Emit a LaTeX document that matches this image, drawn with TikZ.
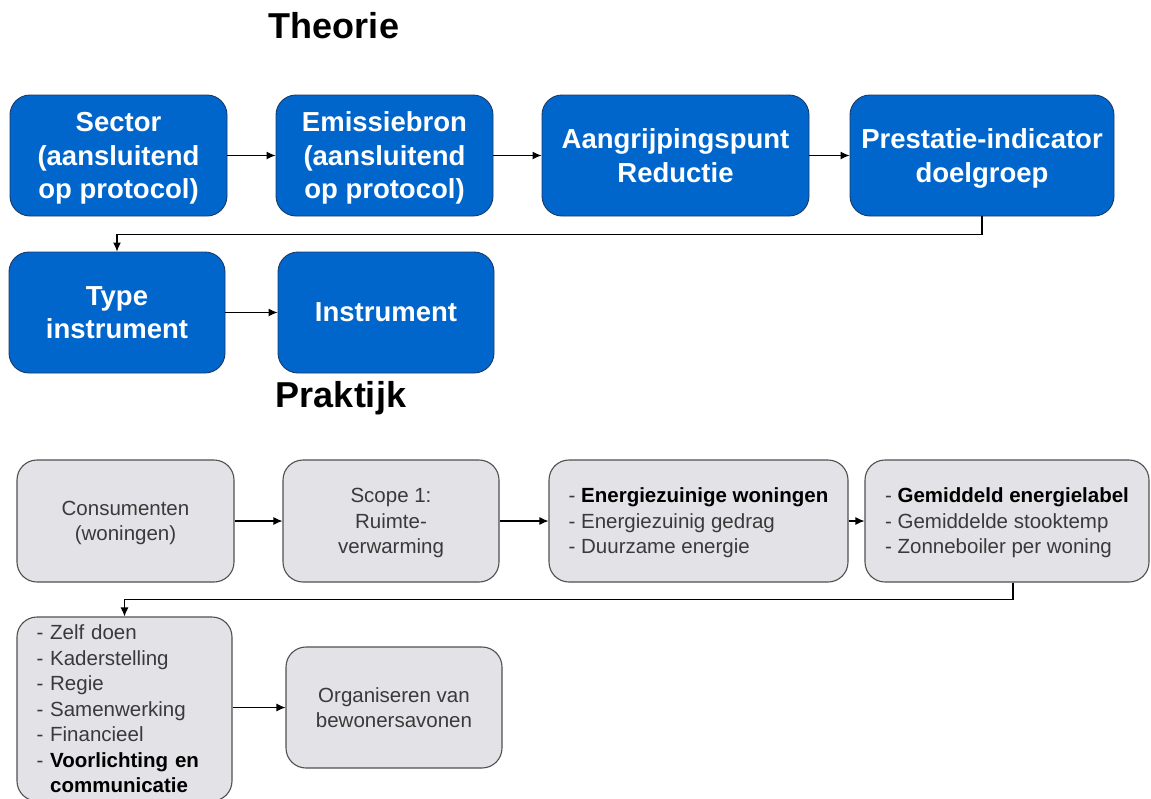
\documentclass[tikz,border=0pt]{standalone}
\usepackage{fontspec}
\setmainfont{Liberation Sans}
\usetikzlibrary{arrows.meta}
\definecolor{boxblue}{HTML}{0066CC}
\definecolor{blueedge}{HTML}{1A3A66}
\definecolor{boxgray}{HTML}{E3E2E6}
\definecolor{grayedge}{HTML}{505050}
\definecolor{txtgray}{HTML}{3A3A3A}
\tikzset{
  bluebox/.style={draw=blueedge, line width=0.9pt, fill=boxblue, rounded corners=20pt,
    text=white, align=center, inner sep=0pt, text depth=0pt,
    font=\fontsize{27.5}{33.5}\selectfont\bfseries},
  graybox/.style={draw=grayedge, line width=1.1pt, fill=boxgray, rounded corners=20pt,
    text=txtgray, inner sep=0pt, font=\fontsize{20.5}{25.5}\selectfont},
  graytext/.style={graybox, text depth=0pt},
  titletext/.style={font=\fontsize{36}{40}\selectfont\bfseries, inner sep=0pt, anchor=base},
  conn/.style={draw=black, line width=1.1pt, -{Latex[length=9pt,width=8pt]}},
}
\newcommand{\bk}[1]{\textbf{\color{black}#1}}
\begin{document}
\begin{tikzpicture}[x=1pt,y=-1pt]
\useasboundingbox[fill=white] (0,0) rectangle (1151,798);

\node[titletext] (theorie) at (334,38) {Theorie};
\node[titletext] (praktijk) at (341,407) {Praktijk};

% Theory row
\node[bluebox, minimum width=217pt, minimum height=121pt] (sector) at (118.5,155.5)
  {Sector\\(aansluitend\\op protocol)};
\node[bluebox, minimum width=217pt, minimum height=121pt] (emis) at (384.5,155.5)
  {Emissiebron\\(aansluitend\\op protocol)};
\node[bluebox, minimum width=267pt, minimum height=121pt] (aang) at (675.5,155.5)
  {Aangrijpingspunt\\Reductie};
\node[bluebox, minimum width=264pt, minimum height=121pt] (prest) at (982,155.5)
  {Prestatie-indicator\\doelgroep};
\node[bluebox, minimum width=216pt, minimum height=121pt] (type) at (117,312.5)
  {Type\\instrument};
\node[bluebox, minimum width=216pt, minimum height=121pt] (instr) at (386,312.5)
  {Instrument};

\draw[conn] (sector) -- (emis);
\draw[conn] (emis) -- (aang);
\draw[conn] (aang) -- (prest);
\draw[conn] (prest.south) -- ++(0,18) -| (type.north);
\draw[conn] (type) -- (instr);

% Practice row
\node[graytext, align=center, minimum width=217pt, minimum height=122pt] (cons) at (125.5,521)
  {Consumenten\\(woningen)};
\node[graytext, align=center, minimum width=216pt, minimum height=122pt] (scope) at (391,521)
  {Scope 1:\\Ruimte-\\verwarming};
\node[graytext, align=left, minimum width=299pt, minimum height=122pt] (energ) at (698.5,521)
  {- \bk{Energiezuinige woningen}\\- Energiezuinig gedrag\\- Duurzame energie};
\node[graytext, align=left, minimum width=284pt, minimum height=122pt] (gem) at (1007,521)
  {- \bk{Gemiddeld energielabel}\\- Gemiddelde stooktemp\\- Zonneboiler per woning};
\node[graybox, align=left, text width=176pt, minimum width=215pt, minimum height=184pt] (list) at (124.5,709)
  {- Zelf doen\\- Kaderstelling\\- Regie\\- Samenwerking\\- Financieel\\- \bk{Voorlichting en}\\\hphantom{- }\bk{communicatie}};
\node[graytext, align=center, minimum width=216pt, minimum height=121pt] (orgn) at (394,707.5)
  {Organiseren van\\bewonersavonen};

\draw[conn] (cons) -- (scope);
\draw[conn] (scope) -- (energ);
\draw[conn] (energ) -- (gem);
\draw[conn] ([xshift=6pt]gem.south) -- ++(0,17) -| (list.north);
\draw[conn] (list.east |- orgn.west) -- (orgn.west);
\end{tikzpicture}
\end{document}
